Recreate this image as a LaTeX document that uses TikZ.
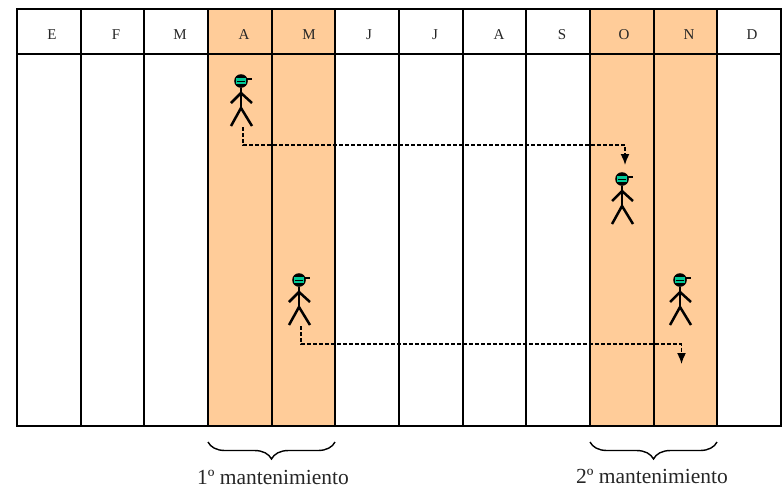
\documentclass[tikz,border=0pt]{standalone}
\usepackage{fontspec}
\setmainfont{Liberation Serif}
\usetikzlibrary{arrows.meta,decorations.pathreplacing}
\definecolor{monthfill}{HTML}{FFCC99}
\definecolor{capgreen}{HTML}{00C896}
\tikzset{
	month/.style={font=\fontsize{15}{17}\selectfont,text=black!85},
	note/.style={font=\fontsize{21.5}{24}\selectfont,text=black!85,inner sep=0pt},
	route/.style={line width=1.6pt,dash pattern=on 4pt off 2pt,-{Latex[length=11pt,width=9pt]}},
	bracket/.style={line width=1.4pt,decorate,decoration={brace,mirror,amplitude=17pt}},
	worker/.pic={
		\draw[line width=2.5pt] (0,7) -- (0,27);
		\draw[line width=2.5pt] (-10,22) -- (0,12) -- (11,22);
		\draw[line width=2.5pt] (-10,45) -- (0,27) -- (11,45);
		\draw[line width=2.2pt] (4,-2) -- (11,-2);
		\fill (0,0) circle[radius=6.8];
		\fill[capgreen] (-4.8,-2.8) rectangle (4.8,2.8);
		\draw[line width=.6pt] (-4,0) -- (4,0);
		\coordinate (-foot) at (2,46);
	}
}

\begin{document}
\begin{tikzpicture}[x=1pt,y=-1pt]
	\useasboundingbox (0,0) rectangle (783,488);
	% Shaded months
	\fill[monthfill] (208,9) rectangle (335,426);
	\fill[monthfill] (590,9) rectangle (717,426);
	% Calendar
	\draw[line width=1.7pt] (17,9) rectangle (781,426);
	\draw[line width=1.7pt] (17,54) -- (781,54);
	\foreach \x in {81,144,208,272,335,399,463,526,590,654,717}
	\draw[line width=1.9pt] (\x,9) -- (\x,426);
	\foreach \x/\m/\n in {52/E/1,116/F/2,180/M/3,244/A/4,309/M/5,369/J/6,435/J/7,499/A/8,562/S/9,624/O/10,689/N/11,752/D/12}
	\node[month] (m\n) at (\x,35) {\m};
	% Workers
	\pic (w1) at (241,81) {worker};
	\pic (w2) at (299,280) {worker};
	\pic (w3) at (622,179) {worker};
	\pic (w4) at (680,280) {worker};
	\coordinate (t1) at (625,165);
	\coordinate (t2) at (681.5,364);
	\draw[route] (w1-foot) -- ++(0,18) -| (t1);
	\draw[route] (w2-foot) -- ++(0,18) -| (t2);
	% Braces
	\coordinate (b1) at (208,442);
	\coordinate (b2) at (335,442);
	\coordinate (b3) at (590,442);
	\coordinate (b4) at (717,442);
	\draw[bracket] (b1) -- (b2);
	\draw[bracket] (b3) -- (b4);
	\node[note] (n1) at (273,477.5) {1º mantenimiento};
	\node[note] (n2) at (652,476.5) {2º mantenimiento};
\end{tikzpicture}
\end{document}
